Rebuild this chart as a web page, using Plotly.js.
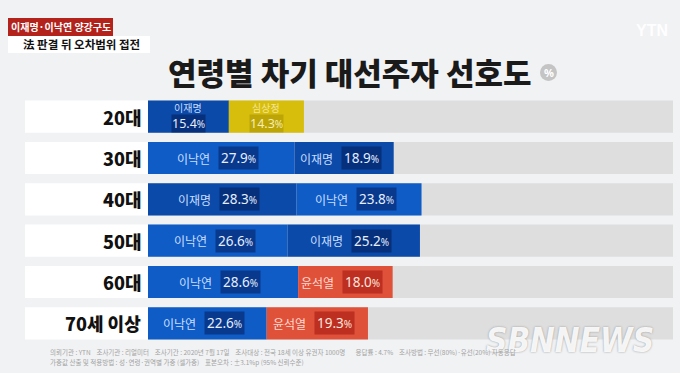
<!DOCTYPE html>
<html><head><meta charset="utf-8">
<script src="https://cdn.plot.ly/plotly-3.0.1.min.js"></script>
<style>html,body{margin:0;padding:0;background:#f1f2f4;}#chart{width:680px;height:373px;}</style>
</head><body><div id="chart"></div>
<script>
// ---- data ----
const ageGroups = ['20대','30대','40대','50대','60대','70세 이상'];
const firstNames = ['이재명','이낙연','이재명','이낙연','이낙연','이낙연'];
const firstValues = [15.4, 27.9, 28.3, 26.6, 28.6, 22.6];
const secondNames = ['심상정','이재명','이낙연','이재명','윤석열','윤석열'];
const secondValues = [14.3, 18.9, 23.8, 25.2, 18.0, 19.3];
const fullScale = [100, 100, 100, 100, 100, 100];

const candColor = {'이재명':'#0b4aa8','이낙연':'#0f5cc6','심상정':'#d8be0c','윤석열':'#e0513a'};
const boxColor = {'이재명':'rgba(3,28,85,0.55)','이낙연':'rgba(3,30,95,0.55)','심상정':'rgba(140,120,0,0.35)','윤석열':'rgba(165,25,15,0.6)'};
const nameColor = {'이재명':'#c8dcff','이낙연':'#c8dcff','심상정':'#f3e59a','윤석열':'#ffd9cf'};
const valColor = {'이재명':'#e4eeff','이낙연':'#e4eeff','심상정':'#f7eeb0','윤석열':'#ffe6df'};

// ---- geometry helpers (pixel -> paper) ----
const W=680,H=373, L=148, R=7, T=96, B=29;
const pw=W-L-R, ph=H-T-B;
const px=x=>(x-L)/pw, py=y=>1-(y-T)/ph;
const KR='"Noto Sans CJK KR", "Noto Sans", sans-serif';

const traces = [
  {type:'bar',orientation:'h',y:ageGroups,x:fullScale,base:0,marker:{color:'#dedede'},width:0.78,hoverinfo:'skip',showlegend:false},
  {type:'bar',orientation:'h',y:ageGroups,x:firstValues,base:0,marker:{color:firstNames.map(n=>candColor[n])},width:0.78,hoverinfo:'skip',showlegend:false},
  {type:'bar',orientation:'h',y:ageGroups,x:secondValues,base:firstValues,marker:{color:secondNames.map(n=>candColor[n])},width:0.78,hoverinfo:'skip',showlegend:false}
];

const shapes = [];
const ann = [];
function pann(o){ ann.push(Object.assign({xref:'paper',yref:'paper',xanchor:'center',yanchor:'middle',showarrow:false},o)); }

ageGroups.forEach((g,i)=>{
  shapes.push({type:'rect',xref:'paper',yref:'y',x0:px(25),x1:0,y0:i-0.39,y1:i+0.39,fillcolor:'#ffffff',line:{width:0},layer:'below'});
  ann.push({xref:'paper',yref:'y',x:px(143),y:g,xanchor:'right',yanchor:'middle',showarrow:false,
    text:g,font:{family:KR,size:18,color:'#111',weight:900}});
});

function segLabels(name,val,base,g,twoLine){
  const c = base+val/2;
  const vtxt = val.toFixed(1)+"<span style='font-size:10px'>%</span>";
  if(twoLine){
    ann.push({x:c,y:g,xref:'x',yref:'y',yanchor:'middle',yshift:9,showarrow:false,text:name,font:{family:KR,size:10,color:nameColor[name]}});
    ann.push({x:c,y:g,xref:'x',yref:'y',yanchor:'middle',yshift:-7,showarrow:false,text:vtxt,bgcolor:boxColor[name],borderpad:0,
      font:{family:'"Noto Sans", sans-serif',size:12.5,color:valColor[name]}});
  } else {
    ann.push({x:c,y:g,xref:'x',yref:'y',xanchor:'right',yanchor:'middle',xshift:-9,showarrow:false,text:name,font:{family:KR,size:12,color:nameColor[name]}});
    ann.push({x:c,y:g,xref:'x',yref:'y',xanchor:'left',yanchor:'middle',xshift:-3,showarrow:false,text:vtxt,bgcolor:boxColor[name],borderpad:2,
      font:{family:'"Noto Sans", sans-serif',size:13.5,color:valColor[name]}});
  }
}
ageGroups.forEach((g,i)=>{
  segLabels(firstNames[i],firstValues[i],0,g,i===0);
  segLabels(secondNames[i],secondValues[i],firstValues[i],g,i===0);
});

// title
pann({x:px(350),y:py(71),text:'연령별 차기 대선주자 선호도',font:{family:KR,size:31,color:'#1a1a1a',weight:900}});
shapes.push({type:'circle',xref:'paper',yref:'paper',x0:px(540),x1:px(557),y0:py(64),y1:py(81),fillcolor:'#c4c4c4',line:{width:0}});
pann({x:px(548.5),y:py(72.5),text:'%',font:{family:'"Noto Sans", sans-serif',size:11,color:'#ffffff',weight:700}});

// caption boxes
shapes.push({type:'rect',xref:'paper',yref:'paper',x0:px(8),x1:px(113),y0:py(36),y1:py(18),fillcolor:'#b3221b',line:{width:0}});
pann({x:px(60.5),y:py(27),text:'이재명·이낙연 양강구도',font:{family:KR,size:10,color:'#ffffff',weight:700}});
shapes.push({type:'rect',xref:'paper',yref:'paper',x0:px(8),x1:px(150),y0:py(53),y1:py(36),fillcolor:'#ffffff',line:{width:0}});
pann({x:px(21),y:py(44.5),xanchor:'left',text:'法 판결 뒤 오차범위 접전',font:{family:KR,size:11.5,color:'#111',weight:700}});

// watermarks
pann({x:px(652),y:py(30),text:'YTN',font:{family:'"Liberation Sans", sans-serif',size:16,color:'rgba(255,255,255,0.95)',weight:700}});
pann({x:px(570),y:py(340),text:'SBNNEWS',
  font:{family:'"DejaVu Sans Condensed","Liberation Sans Narrow", sans-serif',size:33,style:'italic',weight:700,color:'rgba(255,255,255,0.92)',shadow:'0px 0px 2px #8a8a8a'}});

// footnote
pann({x:px(48),y:py(352),xanchor:'left',
  text:'의뢰기관 : YTN    조사기관 : 리얼미터    조사기간 : 2020년 7월 17일    조사대상 : 전국 18세 이상 유권자 1000명       응답률 : 4.7%    조사방법 : 무선(80%)·유선(20%) 자동응답',
  font:{family:KR,size:6.5,color:'#a2a2a2'}});
pann({x:px(48),y:py(362),xanchor:'left',
  text:'가중값 산출 및 적용방법 : 성·연령·권역별 가중 (셀가중)    표본오차 : ±3.1%p (95% 신뢰수준)',
  font:{family:KR,size:6.5,color:'#a2a2a2'}});

const layout = {
  width:W,height:H,margin:{l:L,r:R,t:T,b:B},
  paper_bgcolor:'#f1f2f4',plot_bgcolor:'rgba(0,0,0,0)',
  barmode:'overlay',showlegend:false,
  xaxis:{range:[0,100],visible:false,fixedrange:true},
  yaxis:{type:'category',categoryorder:'array',categoryarray:ageGroups,autorange:'reversed',range:[5.5,-0.5],visible:false,fixedrange:true},
  shapes:shapes,annotations:ann
};
Plotly.newPlot('chart',traces,layout,{displayModeBar:false,staticPlot:true});
</script></body></html>
